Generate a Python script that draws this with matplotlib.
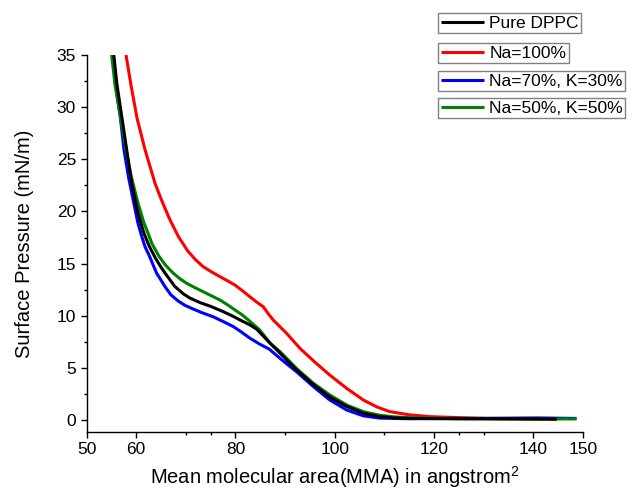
import matplotlib
matplotlib.use("Agg")
import matplotlib.pyplot as plt
from matplotlib.ticker import FixedLocator

plt.rcParams['font.family'] = ['Liberation Sans', 'DejaVu Sans']
plt.rcParams['mathtext.default'] = 'regular'

labels = ["Pure DPPC", "Na=100%", "Na=70%, K=30%", "Na=50%, K=50%"]
colors = ["#000000", "#ff0000", "#0000ff", "#008000"]

black_x = [55.5, 56.1, 57.1, 58.1, 59.1, 60.4, 61.5, 62.6, 63.8, 64.8, 65.8, 67.8, 69.5, 70.8, 72.9, 75.0, 77.5, 79.5, 81.3, 83.0, 84.3, 86.5, 89.0, 92.3, 95.7, 99.0, 102.4, 105.8, 109.1, 112, 115.8, 125, 135, 144.7]
black_y = [35.0, 32.3, 29.1, 25.9, 22.7, 19.8, 18.0, 16.7, 15.6, 14.8, 14.1, 12.8, 12.1, 11.7, 11.25, 10.9, 10.4, 9.95, 9.5, 9.1, 8.7, 7.6, 6.4, 4.8, 3.4, 2.2, 1.3, 0.65, 0.32, 0.2, 0.15, 0.12, 0.12, 0.1]

red_x = [57.96, 59.0, 60.2, 61.8, 63.8, 65.1, 66.8, 68.5, 70.4, 72.0, 73.5, 75.2, 76.9, 78.4, 79.9, 81.4, 82.9, 84.3, 85.6, 86.6, 87.6, 90.3, 93.0, 96.0, 99.0, 102.5, 105.75, 108.5, 111.1, 115, 119.2, 130, 144.7]
red_y = [35.0, 32.0, 28.9, 25.9, 22.7, 21.1, 19.2, 17.6, 16.2, 15.35, 14.7, 14.2, 13.74, 13.35, 12.94, 12.4, 11.82, 11.3, 10.86, 10.2, 9.59, 8.31, 6.87, 5.55, 4.31, 3.0, 1.92, 1.25, 0.8, 0.5, 0.32, 0.15, 0.05]

blue_x = [55.3, 55.8, 56.8, 57.55, 58.5, 59.4, 60.3, 61.0, 61.8, 62.6, 64.1, 65.8, 67.0, 68.5, 69.8, 71.2, 73.2, 75.5, 77.5, 79.6, 81.3, 82.9, 84.8, 86.8, 89.5, 92.3, 95.7, 99.0, 102.4, 105.75, 109.1, 115, 125, 135, 141, 148.7]
blue_y = [35.0, 32.3, 29.1, 25.9, 23.2, 21.1, 19.0, 17.8, 16.6, 15.8, 14.1, 12.8, 12.0, 11.4, 11.0, 10.7, 10.3, 9.9, 9.45, 8.95, 8.4, 7.85, 7.3, 6.8, 5.7, 4.63, 3.2, 1.92, 0.96, 0.4, 0.18, 0.12, 0.15, 0.18, 0.2, 0.15]

green_x = [55.07, 55.7, 56.8, 57.96, 59.0, 60.2, 61.5, 62.4, 63.2, 64.6, 66.0, 67.5, 68.8, 70.2, 71.8, 73.5, 75.2, 76.9, 78.4, 79.9, 81.3, 82.6, 84.9, 87.0, 89.0, 92.3, 95.7, 99.0, 102.4, 105.75, 109.1, 112, 115.8, 125, 135, 148.7]
green_y = [35.0, 32.3, 29.1, 25.9, 23.4, 21.1, 19.0, 17.9, 16.9, 15.7, 14.8, 14.07, 13.55, 13.1, 12.7, 12.3, 11.9, 11.5, 11.05, 10.55, 10.1, 9.59, 8.63, 7.35, 6.55, 4.95, 3.52, 2.4, 1.44, 0.8, 0.45, 0.3, 0.2, 0.12, 0.1, 0.1]

x_major = [50, 60, 80, 100, 120, 140, 150]
x_minor = [70, 75, 90, 110, 125, 130]
y_major = [0, 5, 10, 15, 20, 25, 30, 35]

fig = plt.figure(figsize=(6.34, 4.91), dpi=100)
ax = fig.add_axes([86.5/634, 1 - 432/491, (583-86.5)/634, (432-55)/491])

kw = dict(lw=2.2, solid_joinstyle='round', solid_capstyle='butt')
l_red, = ax.plot(red_x, red_y, color=colors[1], zorder=2, **kw)
l_blue, = ax.plot(blue_x, blue_y, color=colors[2], zorder=3, **kw)
l_green, = ax.plot(green_x, green_y, color=colors[3], zorder=4, **kw)
l_black, = ax.plot(black_x, black_y, color=colors[0], zorder=5, **kw)

ax.set_xlim(50, 150)
ax.set_ylim(-1.15, 35)
ax.spines['top'].set_visible(False)
ax.spines['right'].set_visible(False)
for s in ['left', 'bottom']:
    ax.spines[s].set_linewidth(1.0)

ax.xaxis.set_major_locator(FixedLocator(x_major))
ax.xaxis.set_minor_locator(FixedLocator(x_minor))
ax.yaxis.set_major_locator(FixedLocator(y_major))
ax.yaxis.set_minor_locator(FixedLocator([v + 2.5 for v in y_major[:-1]]))
ax.tick_params(which='major', direction='out', length=4.5, width=1.0, labelsize=12.5, pad=3)
ax.tick_params(which='minor', direction='out', length=2.5, width=1.0)

ax.set_xlabel("Mean molecular area(MMA) in angstrom$^{2}$", fontsize=14.5, labelpad=5)
ax.set_ylabel("Surface Pressure (mN/m)", fontsize=14.5, labelpad=16)

handles = [l_black, l_red, l_blue, l_green]
tops = [13, 43, 71, 98]
for h, lab, t in zip(handles, labels, tops):
    lg = fig.legend(handles=[h], labels=[lab], loc='upper left',
                    bbox_to_anchor=(438/634, 1 - t/491), bbox_transform=fig.transFigure,
                    fontsize=12.5, frameon=True, fancybox=False, edgecolor='#808080',
                    framealpha=1, borderpad=0.15, handlelength=2.5, handletextpad=0.3,
                    borderaxespad=0)
    lg.get_frame().set_linewidth(1.0)

fig.savefig("out.png", dpi=100)
